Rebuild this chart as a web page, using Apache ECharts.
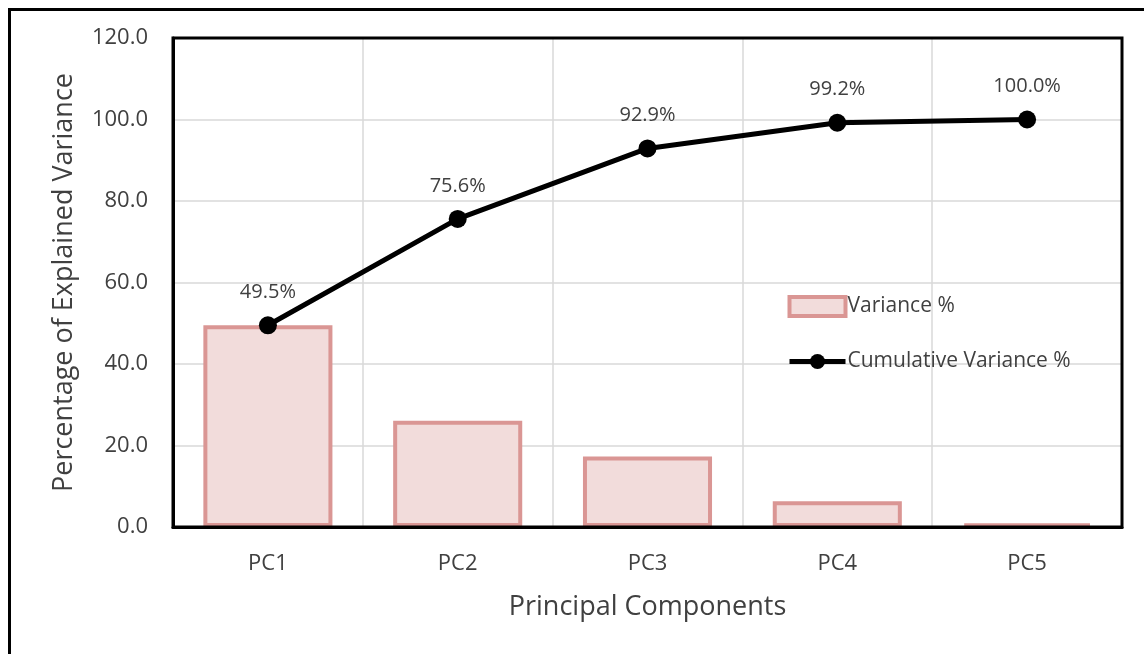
<!DOCTYPE html>
<html>
<head>
<meta charset="utf-8">
<script src="https://cdn.jsdelivr.net/npm/echarts@6/dist/echarts.min.js"></script>
<style>html,body{margin:0;padding:0;background:#fff;}#c{width:1144px;height:654px;}</style>
</head>
<body>
<div id="c"></div>
<script>
const categories = ['PC1', 'PC2', 'PC3', 'PC4', 'PC5'];
const variance = [49.5, 26.1, 17.3, 6.3, 0.8];
const cumulative = [49.5, 75.6, 92.9, 99.2, 100.0];
const yTicks = { min: 0, max: 120, interval: 20 };

const FONT = '"Open Sans", "Noto Sans", sans-serif';
const chart = echarts.init(document.getElementById('c'), null, { renderer: 'canvas' });
chart.setOption({
  animation: false,
  backgroundColor: '#fff',
  textStyle: { fontFamily: FONT },
  graphic: [{
    type: 'rect', left: 7, top: 7, z: 100,
    shape: { width: 1200, height: 700 },
    style: { fill: 'none', stroke: '#000', lineWidth: 3 }
  }],
  grid: { left: 173, right: 22, top: 38, bottom: 127, show: true, borderColor: '#000', borderWidth: 3, z: 5 },
  legend: {
    orient: 'vertical', left: 787, top: 295, padding: 0, itemGap: 33,
    itemWidth: 56, itemHeight: 19,
    textStyle: { fontFamily: FONT, fontSize: 21, color: '#404040', padding: [0, 0, 0, -3] },
    data: [
      { name: 'Variance %', icon: 'rect', itemStyle: { borderWidth: 4 } },
      { name: 'Cumulative Variance %', lineStyle: { width: 5 } }
    ]
  },
  xAxis: {
    type: 'category', data: categories, boundaryGap: true,
    name: 'Principal Components', nameLocation: 'middle', nameGap: 67,
    nameTextStyle: { fontFamily: FONT, fontSize: 27, color: '#404040' },
    axisLine: { lineStyle: { color: '#000', width: 3 } },
    axisTick: { show: false },
    axisLabel: { fontFamily: FONT, fontSize: 22, color: '#404040', margin: 26 },
    splitLine: { show: true, lineStyle: { color: '#D9D9D9', width: 1.5 } }
  },
  yAxis: {
    type: 'value', min: yTicks.min, max: yTicks.max, interval: yTicks.interval,
    name: 'Percentage of Explained Variance', nameLocation: 'middle', nameGap: 95,
    nameTextStyle: { fontFamily: FONT, fontSize: 27, color: '#404040' },
    axisLine: { show: true, lineStyle: { color: '#000', width: 3 } },
    axisTick: { show: false },
    axisLabel: { fontFamily: FONT, fontSize: 22, color: '#404040', margin: 25, formatter: v => v.toFixed(1) },
    splitLine: { show: true, lineStyle: { color: '#D9D9D9', width: 1.5 } }
  },
  series: [
    {
      name: 'Variance %', type: 'bar', data: variance, barWidth: '68%', z: 3,
      itemStyle: { color: '#F2DCDB', borderColor: '#DA9694', borderWidth: 4 }
    },
    {
      name: 'Cumulative Variance %', type: 'line', data: cumulative, z: 6,
      symbol: 'circle', symbolSize: 18,
      lineStyle: { color: '#000', width: 5 },
      itemStyle: { color: '#000' },
      label: { show: true, position: 'top', distance: 14, fontFamily: FONT, fontSize: 20, color: '#404040',
        formatter: p => p.value.toFixed(1) + '%' }
    }
  ]
});
</script>
</body>
</html>
